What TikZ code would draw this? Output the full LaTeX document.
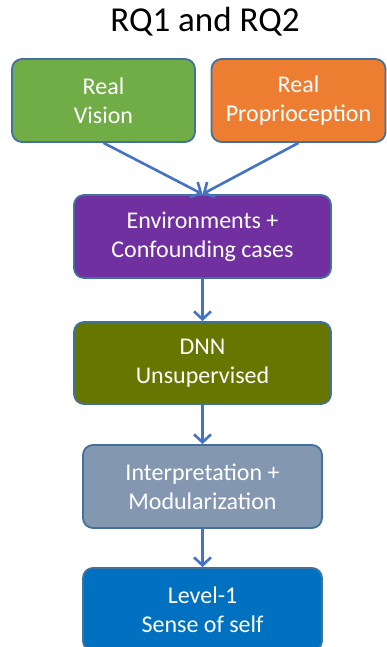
\documentclass[tikz,border=0pt]{standalone}
\usepackage{fontspec}
\setmainfont{Carlito}
\usetikzlibrary{arrows.meta}
\definecolor{edgeblue}{HTML}{41719C}
\definecolor{arrowblue}{HTML}{4472C4}
\definecolor{vgreen}{HTML}{70AD47}
\definecolor{porange}{HTML}{ED7D31}
\definecolor{epurple}{HTML}{7030A0}
\definecolor{dolive}{HTML}{667700}
\definecolor{islate}{HTML}{8497B0}
\definecolor{lblue}{HTML}{0070C0}
\tikzset{
  stagebox/.style={draw=edgeblue, line width=1.8pt, rounded corners=10pt,
    text=white, align=center, inner sep=0pt,
    font=\fontsize{24}{29}\selectfont},
  flow/.style={draw=arrowblue, line width=2.6pt,
    -{Straight Barb[length=8pt,width=17pt,line width=2.6pt]}}
}
\begin{document}
\begin{tikzpicture}[x=1pt,y=-1pt]
  \useasboundingbox (0,0) rectangle (387,647);
  \node (title) at (205,22) {\fontsize{35}{40}\selectfont RQ1 and RQ2};
  \node[stagebox, fill=vgreen, minimum width=183pt, minimum height=83pt] (vision) at (103.5,100.5) {Real\\Vision};
  \node[stagebox, fill=porange, minimum width=174pt, minimum height=83pt] (proprio) at (298.5,100.5) {Real\\Proprioception};
  \node[stagebox, fill=epurple, minimum width=257pt, minimum height=83pt] (env) at (202.5,236.5) {Environments +\\Confounding cases};
  \node[stagebox, fill=dolive, minimum width=257pt, minimum height=82pt] (dnn) at (202.5,363) {DNN\\Unsupervised};
  \node[stagebox, fill=islate, minimum width=239pt, minimum height=83pt] (interp) at (202.5,486.5) {Interpretation +\\Modularization};
  \node[stagebox, fill=lblue, minimum width=239pt, minimum height=83pt] (level) at (202.5,609.5) {Level-1\\Sense of self};
  \draw[flow] (vision.south) -- (env.north);
  \draw[flow] (proprio.south) -- (env.north);
  \draw[flow] (env.south) -- (dnn.north);
  \draw[flow] (dnn.south) -- (interp.north);
  \draw[flow] (interp.south) -- (level.north);
\end{tikzpicture}
\end{document}
